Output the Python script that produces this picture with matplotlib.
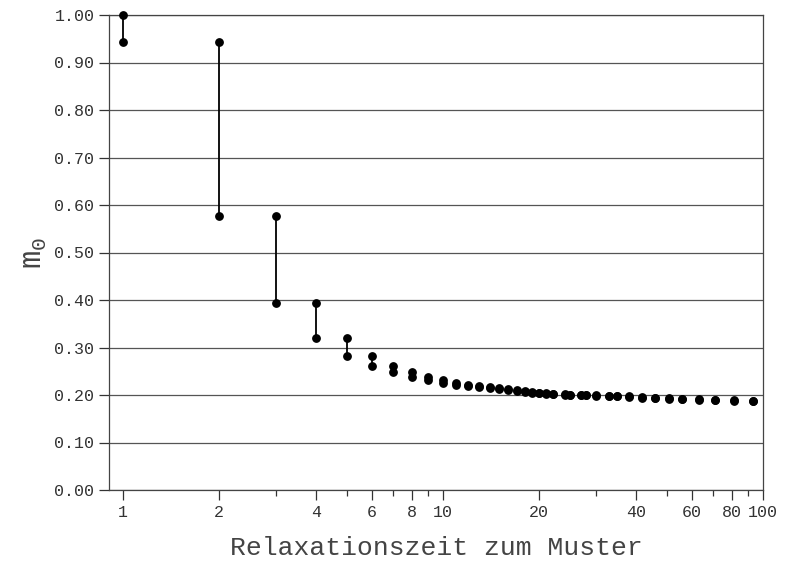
import matplotlib
matplotlib.use("Agg")
import matplotlib.pyplot as plt
from matplotlib.ticker import FixedLocator, NullFormatter

plt.rcParams['font.family'] = ['Liberation Mono', 'DejaVu Sans Mono']
plt.rcParams['mathtext.fontset'] = 'custom'
plt.rcParams['mathtext.rm'] = 'Liberation Mono'

# relaxation step (x) and m0 before / after each step
steps = [1, 2, 3, 4, 5, 6, 7, 8, 9, 10, 11, 12, 13, 14, 15, 16, 17, 18, 19, 20,
         21, 22, 24, 25, 27, 28, 30, 33, 35, 38, 42, 46, 51, 56, 63, 71, 81, 93]
m0_start = [1.000, 0.943, 0.577, 0.394, 0.320, 0.283, 0.261, 0.248, 0.238, 0.231,
            0.226, 0.222, 0.219, 0.217, 0.215, 0.213, 0.210, 0.208, 0.207, 0.205,
            0.204, 0.203, 0.202, 0.201, 0.200, 0.199, 0.199, 0.198, 0.197, 0.197,
            0.196, 0.194, 0.193, 0.192, 0.191, 0.190, 0.189, 0.188]
m0_end = [0.943, 0.577, 0.394, 0.320, 0.283, 0.261, 0.248, 0.238, 0.231, 0.226,
          0.222, 0.219, 0.217, 0.215, 0.213, 0.210, 0.208, 0.207, 0.205, 0.204,
          0.203, 0.202, 0.201, 0.200, 0.199, 0.199, 0.198, 0.197, 0.197, 0.196,
          0.194, 0.193, 0.192, 0.191, 0.190, 0.189, 0.188, 0.187]

x_major = [1, 2, 4, 6, 8, 10, 20, 40, 60, 80, 100]
x_minor = [3, 5, 7, 9, 30, 50, 70, 90]
y_ticks = [0.0, 0.1, 0.2, 0.3, 0.4, 0.5, 0.6, 0.7, 0.8, 0.9, 1.0]

fig = plt.figure(figsize=(7.86, 5.61), dpi=100)
ax = fig.add_axes([109 / 786, 71 / 561, 654 / 786, 475 / 561])

ax.vlines(steps, m0_end, m0_start, color='black', lw=1.3, zorder=3)
ax.plot(steps, m0_start, 'o', color='black', ms=5.3, clip_on=False, zorder=4)
ax.plot(steps, m0_end, 'o', color='black', ms=5.3, clip_on=False, zorder=4)

ax.set_xscale('log')
ax.set_xlim(0.904, 100)
ax.set_ylim(0, 1.0)

ax.xaxis.set_major_locator(FixedLocator(x_major))
ax.set_xticklabels([str(v) for v in x_major])
ax.xaxis.set_minor_locator(FixedLocator(x_minor))
ax.xaxis.set_minor_formatter(NullFormatter())
ax.set_yticks(y_ticks)
ax.set_yticklabels([f"{v:.2f}" for v in y_ticks])

ax.tick_params(axis='both', which='major', direction='out', length=7.5, width=0.9,
               color='#333333', labelsize=12, labelcolor='#333333', pad=3)
ax.tick_params(axis='x', which='minor', direction='out', length=4.5, width=0.9,
               color='#333333')

ax.yaxis.grid(True, color='#555555', lw=0.9)
ax.set_axisbelow(True)
for side in ['left', 'right', 'bottom', 'top']:
    ax.spines[side].set_color('#444444')
    ax.spines[side].set_linewidth(0.9)

ax.set_xlabel('Relaxationszeit zum Muster', fontsize=19, labelpad=12, color='#444444')
ax.set_ylabel(r'$\mathregular{m_0}$', fontsize=22, labelpad=4, color='#444444')

fig.savefig('out.png', dpi=100)
